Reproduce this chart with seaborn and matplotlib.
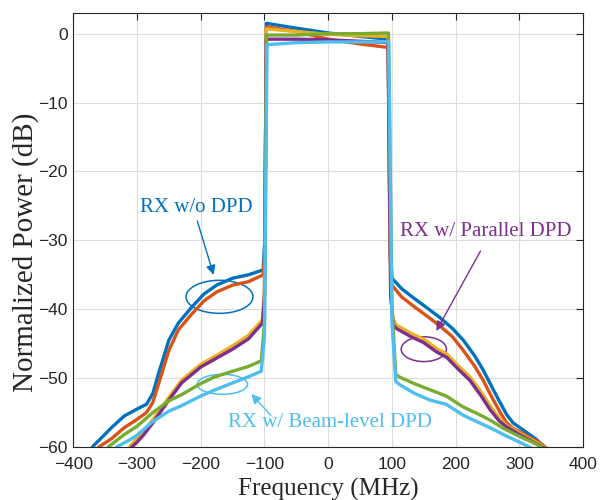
import numpy as np
import pandas as pd
import matplotlib
matplotlib.use("Agg")
import matplotlib.pyplot as plt
import seaborn as sns
from matplotlib.patches import Ellipse

# ------------------------------------------------------------------
# DATA
# ------------------------------------------------------------------
series_names = ["wo_dpd_1", "wo_dpd_2", "par_dpd_1", "par_dpd_2", "beam_dpd_1", "beam_dpd_2"]
series_colors = ["#0072BD", "#D95319", "#EDB120", "#7E2F8E", "#77AC30", "#4DBEEE"]

wo_dpd_1_f = [-370, -340, -320, -300, -285, -275, -265, -250, -235, -215, -195, -175, -150, -125, -102, -99.5,
              -97, -50, 0, 50, 94, 97, 100, 115, 133, 155, 175, 195, 212, 230, 243, 258, 270, 280, 290, 310, 325, 340]
wo_dpd_1_p = [-60, -57.2, -55.5, -54.5, -53.8, -52.2, -49, -44.5, -42, -39.8, -37.8, -36.5, -35.5, -35, -34.3, -30,
              1.5, 0.8, 0.1, -0.4, -0.8, -30, -35.5, -37, -38.3, -39.8, -41.2, -42.8, -44.5, -46.8, -48.8, -51.5,
              -53.6, -55.3, -56.5, -57.8, -58.8, -60]

wo_dpd_2_f = [-360, -340, -320, -300, -285, -275, -265, -250, -235, -215, -195, -175, -150, -125, -102, -99.5,
              -97, -50, 0, 50, 94, 97, 100, 115, 133, 155, 175, 195, 212, 230, 243, 258, 270, 280, 290, 310, 330, 345]
wo_dpd_2_p = [-60, -58.8, -57.2, -56, -55, -53.5, -50.5, -46, -43, -40.8, -38.8, -37.5, -36.5, -36, -35, -32,
              1.0, 0.3, -0.8, -1.5, -2.0, -32, -36.5, -38.2, -39.5, -41, -42.4, -44, -46, -48.3, -50.3, -53,
              -55, -56.5, -57.3, -58.3, -59.3, -60.3]

par_dpd_1_f = [-312, -300, -290, -275, -250, -230, -200, -175, -150, -125, -103, -100,
               -97, -50, 0, 50, 94, 98, 102, 107, 130, 149, 170, 186, 205, 222, 240, 254, 268, 280, 300, 320, 345]
par_dpd_1_p = [-60, -58.8, -57.8, -56, -52.8, -50.3, -48, -46.7, -45.3, -43.8, -41.5, -37,
               0.7, 0.3, -0.1, -0.3, -0.4, -38, -41.5, -42.3, -43.5, -44.3, -45.7, -46.5, -48.3, -49.8, -52,
               -54, -55.8, -56.9, -58, -59, -60.3]

par_dpd_2_f = [-308, -300, -290, -275, -250, -230, -200, -175, -150, -125, -103, -100,
               -97, -50, 0, 50, 94, 98, 102, 107, 130, 149, 170, 186, 205, 222, 240, 254, 268, 280, 300, 320, 340]
par_dpd_2_p = [-60, -59.3, -58.3, -56.5, -53.2, -50.7, -48.4, -47.1, -45.8, -44.3, -42, -38,
               -0.8, -0.8, -0.9, -1.1, -1.3, -38, -42.3, -42.8, -44, -44.8, -46.2, -47, -48.8, -50.3, -52.6,
               -54.6, -56.2, -57.1, -58.2, -59.2, -60.2]

beam_dpd_1_f = [-345, -320, -300, -275, -250, -230, -200, -180, -150, -125, -105, -100,
                -96.5, -50, 0, 50, 94.5, 100, 106, 113, 135, 160, 185, 212, 235, 254, 275, 301, 320, 335]
beam_dpd_1_p = [-60, -58.2, -57, -55, -53.3, -52.4, -50.8, -49.9, -49, -48.3, -47.5, -42,
                -0.2, -0.2, 0.0, 0.0, 0.1, -40, -49.5, -49.9, -50.8, -51.7, -52.6, -54.2, -55.2, -56.1, -57.3,
                -58.5, -59.3, -60]

beam_dpd_2_f = [-332, -312, -300, -275, -250, -230, -200, -180, -150, -125, -105, -100,
                -96, -50, 0, 50, 95, 100, 106, 113, 135, 160, 185, 212, 235, 254, 275, 300, 320]
beam_dpd_2_p = [-60, -59, -58.3, -56.3, -54.8, -54, -52.6, -51.8, -50.7, -49.8, -49, -44,
                -1.6, -1.3, -1.2, -1.2, -1.2, -42, -50.5, -51, -52.2, -53.2, -53.8, -55.4, -56.4, -57.2, -58.2,
                -59.3, -60.2]

freqs = [wo_dpd_1_f, wo_dpd_2_f, par_dpd_1_f, par_dpd_2_f, beam_dpd_1_f, beam_dpd_2_f]
powers = [wo_dpd_1_p, wo_dpd_2_p, par_dpd_1_p, par_dpd_2_p, beam_dpd_1_p, beam_dpd_2_p]

x_ticks = [-400, -300, -200, -100, 0, 100, 200, 300, 400]
y_ticks = [0, -10, -20, -30, -40, -50, -60]

df = pd.concat(
    [pd.DataFrame({"freq": f, "power": p, "series": n}) for n, f, p in zip(series_names, freqs, powers)],
    ignore_index=True,
)

# ------------------------------------------------------------------
# PLOT
# ------------------------------------------------------------------
sns.set_style("whitegrid")
plt.rcParams["font.family"] = ["Liberation Sans", "DejaVu Sans"]

fig = plt.figure(figsize=(6, 5), dpi=100)
ax = fig.add_axes([0.122, 0.106, 0.850, 0.868])

sns.lineplot(
    data=df, x="freq", y="power", hue="series", hue_order=series_names,
    palette=series_colors, estimator=None, sort=False, linewidth=2.4,
    legend=False, ax=ax,
)

ax.set_xlim(-400, 400)
ax.set_ylim(-60, 3)
ax.set_xticks(x_ticks)
ax.set_yticks(y_ticks)
ax.tick_params(axis="both", which="both", direction="in", length=5, width=0.8,
               top=True, right=True, labelsize=12.5, colors="#262626")
ax.tick_params(axis="x", pad=7.5)
ax.tick_params(axis="y", pad=4)
ax.grid(True, color="#DCDCDC", linewidth=0.8)
for s in ax.spines.values():
    s.set_visible(True)
    s.set_color("#262626")
    s.set_linewidth(0.8)

serif = ["Liberation Serif", "DejaVu Serif"]
ax.set_xlabel("Frequency (MHz)", family=serif, fontsize=18, labelpad=4, color="#262626")
ax.set_ylabel("Normalized Power (dB)", family=serif, fontsize=21, color="#262626")
ax.yaxis.set_label_coords(-0.068, 0.449)

# annotations
ax.text(-207, -25.2, "RX w/o DPD", family=serif, fontsize=15, color="#0072BD", ha="center", va="center")
ax.annotate("", xy=(-178.5, -35.4), xytext=(-206.6, -26.8),
            arrowprops=dict(arrowstyle="-|>", color="#0072BD", lw=1.0, mutation_scale=14))
ax.add_patch(Ellipse((-170.5, -38.2), 105, 4.8, fill=False, edgecolor="#0072BD", lw=1.1))

ax.text(247, -28.7, "RX w/ Parallel DPD", family=serif, fontsize=15, color="#7E2F8E", ha="center", va="center")
ax.annotate("", xy=(167.5, -43.5), xytext=(241, -31.2),
            arrowprops=dict(arrowstyle="-|>", color="#7E2F8E", lw=1.0, mutation_scale=14))
ax.add_patch(Ellipse((150, -45.8), 71, 3.6, fill=False, edgecolor="#7E2F8E", lw=1.1))

ax.text(2, -56.4, "RX w/ Beam-level DPD", family=serif, fontsize=15, color="#4DBEEE", ha="center", va="center")
ax.annotate("", xy=(-123.4, -52.0), xytext=(-87.3, -55.7),
            arrowprops=dict(arrowstyle="-|>", color="#4DBEEE", lw=1.0, mutation_scale=14))
ax.add_patch(Ellipse((-166, -50.9), 79, 2.9, fill=False, edgecolor="#4DBEEE", lw=1.1))

fig.savefig("out.png", dpi=100)
